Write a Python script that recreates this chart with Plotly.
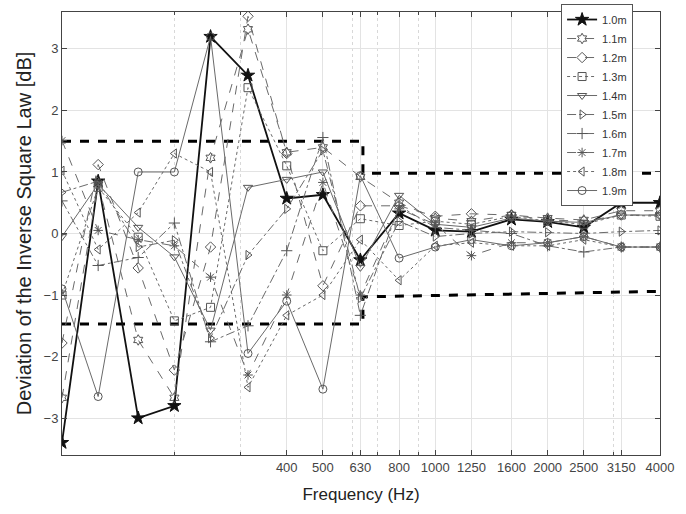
import plotly.graph_objects as go

freqs = [100, 125, 160, 200, 250, 315, 400, 500, 630, 800, 1000, 1250, 1600, 2000, 2500, 3150, 4000]

d10 = [-3.4, 0.85, -3.0, -2.8, 3.2, 2.57, 0.57, 0.63, -0.43, 0.33, 0.05, 0.03, 0.23, 0.19, 0.10, 0.50, 0.50]
d11 = [-2.67, 0.80, -1.73, -2.67, 1.23, 3.32, 1.32, 1.40, 0.92, 0.50, 0.25, 0.20, 0.30, 0.25, 0.22, 0.37, 0.37]
d12 = [-1.78, 1.12, -0.56, -2.22, -0.22, 3.53, 1.30, -0.85, 0.45, 0.45, 0.28, 0.32, 0.30, 0.22, 0.20, 0.30, 0.30]
d13 = [-1.00, 0.75, -0.06, -1.42, -1.20, 2.37, 1.10, -0.28, 0.24, 0.13, 0.20, 0.15, 0.28, 0.20, 0.15, 0.30, 0.28]
d14 = [-0.05, 0.80, 0.10, -0.38, -1.57, 0.75, 0.88, 1.00, -0.55, 0.62, 0.15, 0.10, 0.25, 0.20, 0.18, 0.30, 0.30]
d15 = [0.67, 0.85, -0.22, -0.11, -1.70, -0.35, 0.40, 1.35, -1.05, 0.20, -0.05, 0.00, 0.03, 0.02, 0.00, 0.03, 0.05]
d16 = [0.53, -0.52, -0.39, 0.17, -1.76, -1.50, -0.28, 1.56, -1.33, 0.45, 0.10, 0.05, 0.00, -0.20, -0.30, -0.22, -0.22]
d17 = [1.51, 0.05, -0.10, -0.20, -0.71, -2.30, -1.00, 0.83, -1.00, 0.40, 0.15, -0.36, -0.15, -0.15, -0.05, -0.22, -0.22]
d18 = [1.02, -0.26, 0.34, 1.30, 1.00, -2.50, -1.33, -1.00, -0.10, -0.76, -0.20, -0.15, -0.20, -0.20, -0.10, -0.22, -0.22]
d19 = [-0.90, -2.65, 1.00, 1.00, 3.20, -1.95, -1.10, -2.53, 0.94, -0.40, -0.22, -0.10, -0.20, -0.15, -0.05, -0.22, -0.22]

names = ["1.0m", "1.1m", "1.2m", "1.3m", "1.4m", "1.5m", "1.6m", "1.7m", "1.8m", "1.9m"]
series = [d10, d11, d12, d13, d14, d15, d16, d17, d18, d19]

limit_upper_x = [100, 640, 640, 4000]
limit_upper_y = [1.5, 1.5, 0.98, 0.98]
limit_lower_x = [100, 640, 640, 4000]
limit_lower_y = [-1.47, -1.47, -1.03, -0.94]

major_ticks = [400, 500, 630, 800, 1000, 1250, 1600, 2000, 2500, 3150, 4000]
minor_ticks = [200, 300, 600, 700, 900, 2000, 3000]
y_ticks = [-3, -2, -1, 0, 1, 2, 3]

dashes = ["solid", "dash", "dash", "dot", "solid", "dashdot", "dashdot", "dash", "dot", "solid"]
symbols = ["star", "hexagram-open", "diamond-open", "square-open", "triangle-down-open",
           "triangle-right-open", "cross-thin-open", "asterisk-open", "triangle-left-open", "circle-open"]

fig = go.Figure()

fig.add_trace(go.Scatter(x=limit_upper_x, y=limit_upper_y, mode="lines",
                         line=dict(color="black", width=3, dash="dash"), showlegend=False, hoverinfo="skip"))
fig.add_trace(go.Scatter(x=limit_lower_x, y=limit_lower_y, mode="lines",
                         line=dict(color="black", width=3, dash="dash"), showlegend=False, hoverinfo="skip"))

for i, (nm, ys) in enumerate(zip(names, series)):
    if i == 0:
        line = dict(color="#111111", width=1.8, dash="solid")
        marker = dict(symbol="star", size=10, color="#111111", line=dict(color="#111111", width=1))
    else:
        line = dict(color="#6a6a6a", width=1, dash=dashes[i])
        marker = dict(symbol=symbols[i], size=8, color="#555555", line=dict(color="#555555", width=1))
    fig.add_trace(go.Scatter(x=freqs, y=ys, mode="lines+markers", name=nm, line=line, marker=marker))

axis_common = dict(showline=True, linecolor="#444444", linewidth=1, mirror="ticks",
                   ticks="inside", ticklen=5, tickcolor="#444444",
                   gridcolor="#e3e3e3", gridwidth=1, zeroline=False,
                   tickfont=dict(family="Liberation Sans, Arial", size=13, color="#444444"))

fig.update_xaxes(type="log", range=[2, 3.60206], tickmode="array", tickvals=major_ticks,
                 ticktext=[str(v) for v in major_ticks],
                 minor=dict(tickvals=minor_ticks, showgrid=True, griddash="dot", gridcolor="#d8d8d8",
                            ticks="inside", ticklen=3, tickcolor="#444444"),
                 title=dict(text="Frequency (Hz)", font=dict(family="Liberation Sans, Arial", size=17, color="#222222"),
                            standoff=14),
                 **axis_common)
fig.update_yaxes(range=[-3.6, 3.6], tickmode="array", tickvals=y_ticks,
                 title=dict(text="Deviation of the Inverse Square Law [dB]",
                            font=dict(family="Liberation Sans, Arial", size=20, color="#222222"), standoff=6),
                 **axis_common)

fig.update_layout(
    width=686, height=514,
    margin=dict(l=62, r=26, t=12, b=59, autoexpand=False),
    plot_bgcolor="white", paper_bgcolor="white",
    legend=dict(x=0.955, y=1.018, xanchor="right", yanchor="top", bgcolor="white",
                bordercolor="#555555", borderwidth=1,
                font=dict(family="Liberation Sans, Arial", size=11, color="#333333"),
                tracegroupgap=0, itemwidth=30),
)

fig.write_html("out.html")
